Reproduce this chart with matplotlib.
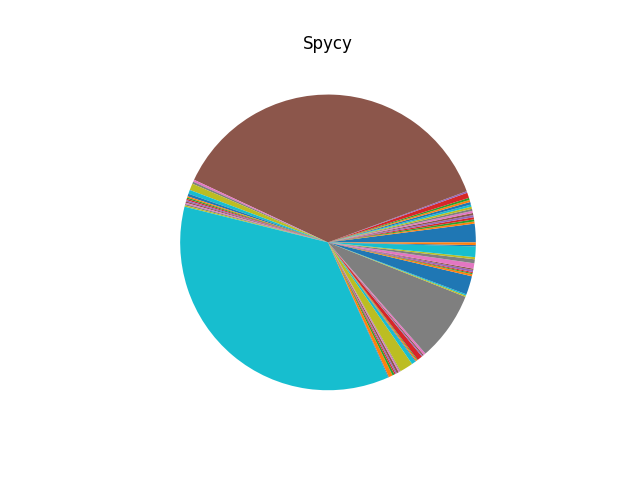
import matplotlib.pyplot as plt

# slice sizes in order (counter-clockwise from 3 o'clock), default colour cycle
sizes = [
    7, 0.8, 0.8, 0.8, 0.8, 0.8, 0.8, 0.8, 0.8, 0.8,
    1, 0.8, 0.8, 2, 0.6, 129, 0.8, 0.8, 2.5, 1.5,
    1, 0.5, 0.5, 0.5, 0.5, 0.5, 0.5, 0.5, 0.5, 122.6,
    0.3, 1.5, 0.8, 0.5, 0.5, 0.8, 0.5, 0.3, 5, 1.5,
    0.3, 0.5, 0.3, 2, 0.4, 0.5, 0.8, 26, 0.5, 0.5,
    7, 0.8, 0.4, 0.4, 0.8, 0.5, 2, 1.5, 0.8, 4,
    0.5, 1,
]
labels = [f"item{i}" for i in range(len(sizes))]

fig, ax = plt.subplots(figsize=(6.4, 4.8))
ax.pie(sizes)
ax.set_title("Spycy")
fig.savefig("out.png", dpi=100)
